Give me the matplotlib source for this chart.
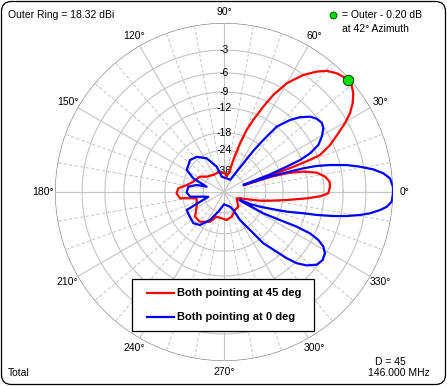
import numpy as np
import matplotlib
matplotlib.use("Agg")
import matplotlib.pyplot as plt
from matplotlib.patches import FancyBboxPatch, Rectangle
from matplotlib.lines import Line2D
from matplotlib.transforms import IdentityTransform

plt.rcParams['font.family'] = ['Liberation Sans', 'DejaVu Sans']

W, H = 447, 386

# ring labels (dB below outer ring) and azimuth labels
ring_db = [-3, -6, -9, -12, -18, -24, -36]
angle_ticks = list(range(0, 360, 30))

# traced pattern, azimuth in degrees (kept continuous past 360), gain in dB
# relative to the outer ring
red_az = [338.5, 346.4, 349.3, 352.7, 355.6, 357.5, 359.3, 362.9, 365.6, 368.6,
          371.8, 374.4, 376.5, 378.0, 379.0, 379.6, 380.0, 380.5, 381.1, 383.9,
          387.2, 389.6, 392.0, 394.6, 397.4, 400.0, 402.0, 404.0, 406.5, 409.7,
          412.4, 415.9, 420.0, 423.1, 425.3, 427.9, 429.9, 431.8, 433.8, 434.7,
          440.0, 445.0, 461.0, 482.0, 498.5, 507.5, 521.4, 529.4, 535.4, 541.6,
          548.1, 553.0, 568.3, 580.4, 591.0, 604.8, 613.5, 635.5, 647.3, 661.4,
          674.2, 693.6, 698.5]
red_db = [-39.0, -26.0, -22.0, -16.9, -12.2, -9.6, -8.28, -7.98, -8.0, -8.6,
          -9.95, -12.4, -16.0, -21.0, -36.0, -21.0, -14.0, -10.6, -8.5, -6.46,
          -4.7, -3.34, -2.21, -1.34, -0.65, -0.25, -0.2, -0.32, -0.55, -1.06,
          -1.83, -3.07, -5.1, -7.55, -10.1, -13.3, -16.1, -20.5, -27.9, -34.4,
          -41.0, -38.0, -36.0, -36.5, -34.1, -30.5, -28.4, -25.7, -22.4, -21.8,
          -22.9, -30.8, -29.1, -25.6, -25.5, -28.1, -32.3, -30.8, -32.2, -35.7,
          -36.2, -42.5, -39.0]

blue_az = [333.4, 335.5, 337.8, 340.7, 342.6, 345.0, 346.1, 347.6, 348.9, 350.4,
           351.7, 353.4, 354.8, 356.7, 359.6, 361.8, 364.7, 366.7, 368.6, 370.5,
           372.4, 374.3, 375.7, 376.6, 377.4, 378.4, 379.1, 380.0, 381.0, 382.0,
           382.8, 384.2, 386.5, 389.5, 392.7, 395.3, 398.3, 401.2, 404.5, 407.5,
           411.1, 412.9, 414.5, 415.5, 418.0, 423.0, 458.6, 466.0, 477.2, 487.7,
           496.7, 509.5, 516.0, 523.0, 525.6, 531.6, 540.5, 547.9, 551.9, 557.0,
           565.8, 576.0, 585.6, 594.0, 603.4, 613.9, 630.0, 652.2, 657.3, 659.7,
           663.2, 665.4, 667.5, 671.4, 673.4, 675.6, 678.4, 681.9, 685.4, 688.7,
           691.2, 693.0, 694.3, 694.5, 693.4, 691.5, 692.0, 693.4]
blue_db = [-38.5, -30.0, -25.2, -20.1, -16.2, -12.4, -9.8, -7.07, -5.2, -3.49,
           -2.33, -1.26, -0.58, -0.1, 0.0, 0.0, -0.25, -0.9, -1.93, -3.4,
           -5.1, -7.5, -9.65, -12.2, -16.2, -21.4, -27.2, -36.0, -21.0, -15.7,
           -12.3, -10.0, -8.1, -7.0, -6.16, -5.9, -6.14, -6.7, -7.9, -9.4,
           -12.0, -16.3, -20.5, -25.0, -33.6, -43.0, -41.0, -31.9, -25.7, -22.9,
           -22.1, -23.4, -27.7, -38.3, -30.7, -26.5, -25.9, -27.4, -34.4, -40.0,
           -24.1, -23.8, -23.2, -24.4, -28.9, -36.2, -45.0, -40.6, -36.4, -28.5,
           -24.1, -20.7, -16.5, -12.9, -10.6, -8.7, -7.28, -6.19, -5.9, -6.15,
           -6.85, -8.0, -9.8, -12.7, -17.0, -22.8, -38.0, -38.5]

peak_az, peak_db = 42.0, -0.2


def arrl(db):
    # ARRL log scale: radius shrinks by 0.89 every 2 dB
    return 0.89 ** (-np.asarray(db, dtype=float) / 2.0)


def px(x, y):
    return x / W, 1 - y / H


fig = plt.figure(figsize=(W / 100, H / 100), dpi=100)
fig.patch.set_facecolor('white')

cx, cy, R = 224, 192, 169
ax = fig.add_axes([(cx - R) / W, (H - cy - R) / H, 2 * R / W, 2 * R / H],
                  projection='polar')
ax.set_ylim(0, 1)
ax.set_axis_off()

grid_c = '#c4c4c4'
full = np.linspace(0, 2 * np.pi, 721)
for db in ring_db:
    ax.plot(full, np.full_like(full, arrl(db)), color=grid_c, lw=0.8, zorder=1)
ax.plot(full, np.ones_like(full), color='#808080', lw=0.9, zorder=1)

for a in range(0, 360, 10):
    t = np.deg2rad(a)
    if a % 30 == 0:
        ax.plot([t, t], [0, 1], color=grid_c, lw=0.8, zorder=1)
    else:
        ax.plot([t, t], [arrl(-36), 1], color=grid_c, lw=0.7,
                linestyle=(0, (3.5, 2.2)), zorder=1)

for a in angle_ticks:
    ax.text(np.deg2rad(a), 1.068, f"{a}\u00b0", ha='center', va='center',
            fontsize=7.5, clip_on=False)

for db in ring_db:
    ax.text(np.pi / 2, arrl(db), f"{db}", ha='center', va='center',
            fontsize=7.5, zorder=2)

ax.plot(np.unwrap(np.deg2rad(red_az)), arrl(red_db), color='#ff0000', lw=1.6,
        zorder=3, solid_joinstyle='round')
ax.plot(np.unwrap(np.deg2rad(blue_az)), arrl(blue_db), color='#0000ff', lw=1.6,
        zorder=4, solid_joinstyle='round')
ax.plot([np.deg2rad(peak_az)], [arrl(peak_db)], marker='o', ms=7.5,
        mfc='#00e000', mec='#004000', mew=0.7, zorder=5, clip_on=False)

# annotations
fig.text(*px(8, 15), "Outer Ring = 18.32 dBi", fontsize=7.5, va='center')
fig.add_artist(Line2D([333 / W], [1 - 15 / H], marker='o', ms=5,
                      mfc='#00e000', mec='#004000', mew=0.6,
                      transform=fig.transFigure))
fig.text(*px(342, 15), "= Outer - 0.20 dB", fontsize=7.5, va='center')
fig.text(*px(342, 29), "at 42\u00b0 Azimuth", fontsize=7.5, va='center')
fig.text(*px(8, 373), "Total", fontsize=7.5, va='center')
fig.text(*px(375, 362), "D = 45", fontsize=7.5, va='center')
fig.text(*px(368, 373), "146.000 MHz", fontsize=7.5, va='center')

# legend box
lx0, ly0, lx1, ly1 = 132, 279, 314, 331
fig.add_artist(Rectangle(px(lx0, ly1), (lx1 - lx0) / W, (ly1 - ly0) / H,
                         transform=fig.transFigure, facecolor='white',
                         edgecolor='black', lw=0.9, zorder=10))
for yy, col, lab in [(293, '#ff0000', "Both pointing at 45 deg"),
                     (317, '#0000ff', "Both pointing at 0 deg")]:
    fig.add_artist(Line2D([147 / W, 174 / W], [1 - yy / H, 1 - yy / H],
                          color=col, lw=1.6, transform=fig.transFigure,
                          zorder=11))
    fig.text(*px(177, yy), lab, fontsize=8, fontweight='bold', va='center',
             zorder=11)

# rounded outer frame
fig.add_artist(FancyBboxPatch((1.5, 1.5), W - 3, H - 3,
                              boxstyle="round,pad=0,rounding_size=10",
                              transform=IdentityTransform(), facecolor='none',
                              edgecolor='black', lw=0.9))

fig.savefig("out.png", dpi=100)
